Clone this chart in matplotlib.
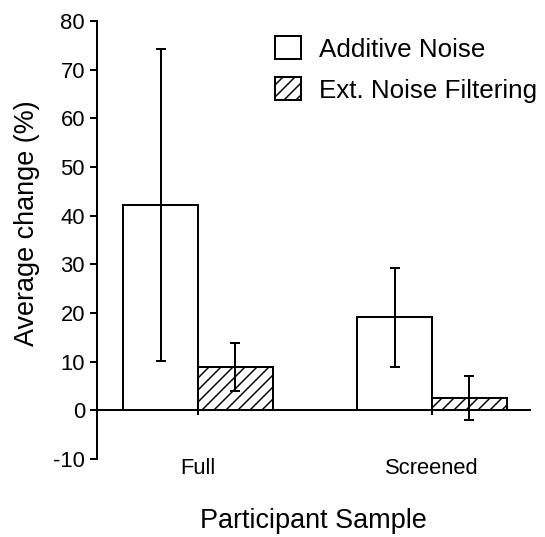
import numpy as np
import matplotlib.pyplot as plt
from matplotlib.patches import Patch

plt.rcParams['font.family'] = ['Liberation Sans', 'DejaVu Sans']
plt.rcParams['hatch.linewidth'] = 1.5
plt.rcParams['axes.unicode_minus'] = False

groups = ["Full", "Screened"]
additive_mean = [42.2, 19.1]
additive_err = [32.0, 10.2]
filtering_mean = [8.9, 2.6]
filtering_err = [4.9, 4.5]
series_labels = ["Additive Noise", "Ext. Noise Filtering"]

fig = plt.figure(figsize=(545 / 72, 537 / 72), dpi=72)
ax = fig.add_axes([97 / 545, 1 - 459 / 537, 433 / 545, 438 / 537])

x = np.arange(len(groups))
w = 0.32
ax.bar(x - w / 2, additive_mean, w, facecolor="white", edgecolor="black", linewidth=2, zorder=2)
ax.bar(x + w / 2, filtering_mean, w, facecolor="white", edgecolor="black", linewidth=2,
       hatch="//", zorder=2)
ax.errorbar(x - w / 2, additive_mean, yerr=additive_err, fmt="none", ecolor="black",
            elinewidth=2, capsize=5, capthick=2, zorder=3)
ax.errorbar(x + w / 2, filtering_mean, yerr=filtering_err, fmt="none", ecolor="black",
            elinewidth=2, capsize=5, capthick=2, zorder=3)

ax.set_xlim(-0.432, 1.419)
ax.set_ylim(-10, 80)
ax.set_yticks(np.arange(-10, 81, 10))
ax.set_xticks(x)
ax.set_xticklabels(groups)

for s in ["top", "right"]:
    ax.spines[s].set_visible(False)
ax.spines["bottom"].set_position(("data", 0))
ax.spines["left"].set_linewidth(2)
ax.spines["bottom"].set_linewidth(2)

ax.tick_params(axis="y", direction="out", length=7, width=2, labelsize=22, pad=5)
ax.tick_params(axis="x", direction="out", length=5, width=2, labelsize=22, pad=43)

ax.set_ylabel("Average change (%)", fontsize=27)
ax.yaxis.set_label_coords(-0.132, 0.539)
ax.set_xlabel("Participant Sample", fontsize=27)
ax.xaxis.set_label_coords(0.5, -0.113)

handles = [Patch(facecolor="white", edgecolor="black", linewidth=2),
           Patch(facecolor="white", edgecolor="black", linewidth=2, hatch="//")]
ax.legend(handles, series_labels, loc="upper left", bbox_to_anchor=(275 / 545, 1 - 36 / 537),
          bbox_transform=fig.transFigure, frameon=False, fontsize=26, handlelength=1.0,
          handleheight=1.0, handletextpad=0.7, labelspacing=0.6, borderpad=0, borderaxespad=0)

fig.savefig("out.png", dpi=72)
